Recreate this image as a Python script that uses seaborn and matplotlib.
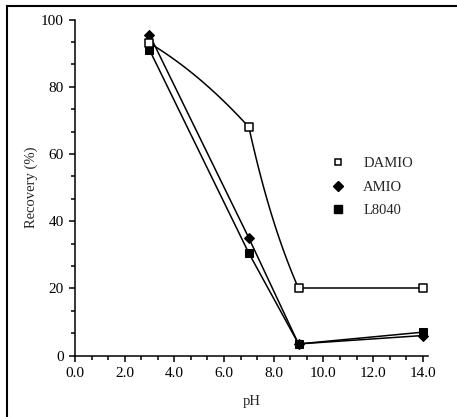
import numpy as np
import pandas as pd
import seaborn as sns
import matplotlib.pyplot as plt
from matplotlib.lines import Line2D
from matplotlib.patches import Rectangle
from matplotlib.ticker import MultipleLocator, FormatStrFormatter

# values
ph = [3.0, 7.0, 9.0, 14.0]
damio = [93.0, 68.0, 20.0, 20.0]
amio = [95.5, 35.0, 3.5, 6.0]
l8040 = [91.0, 30.5, 3.5, 7.0]

sns.set_style("ticks")
plt.rcParams['font.family'] = ['Liberation Serif', 'DejaVu Serif']
plt.rcParams['font.size'] = 10.5

fig = plt.figure(figsize=(4.57, 4.17), dpi=100)
ax = fig.add_axes([0.164, 0.147, 0.772, 0.806])
ax.set_xlim(0, 14.2)
ax.set_ylim(0, 100)

df = pd.DataFrame({'pH': ph, 'DAMIO': damio, 'AMIO': amio, 'L8040': l8040})


def smooth(xs, ys, slopes, n=60):
    # bezier through the points, tangent slopes given in screen space
    pts = ax.transData.transform(np.column_stack([xs, ys]))
    out = [pts[0]]
    for i in range(len(pts) - 1):
        p1, p2 = pts[i], pts[i + 1]
        L = np.hypot(*(p2 - p1))
        s1, s2 = slopes[i]
        d1 = np.array([1.0, s1]) / np.hypot(1, s1)
        d2 = np.array([1.0, s2]) / np.hypot(1, s2)
        c1 = p1 + d1 * L / 3
        c2 = p2 - d2 * L / 3
        t = np.linspace(0, 1, n)[1:, None]
        seg = ((1 - t) ** 3) * p1 + 3 * ((1 - t) ** 2) * t * c1 + 3 * (1 - t) * t ** 2 * c2 + t ** 3 * p2
        out.extend(seg)
    return ax.transData.inverted().transform(np.array(out))


# DAMIO: curved over the first three points, flat afterwards
curve = smooth(ph[:3], damio[:3], [(-0.6, -1.1), (-4.5, -2.3)])
ax.plot(curve[:, 0], curve[:, 1], color='black', lw=1.1)
ax.plot(ph[2:], damio[2:], color='black', lw=1.1)

sns.lineplot(data=df, x='pH', y='AMIO', color='black', lw=1.1, ax=ax,
             marker='D', markersize=5, markeredgecolor='black')
sns.lineplot(data=df, x='pH', y='L8040', color='black', lw=1.1, ax=ax,
             marker='s', markersize=6, markeredgecolor='black')
sns.scatterplot(data=df, x='pH', y='DAMIO', marker='s', s=28, facecolor='white',
                edgecolor='black', linewidth=1.1, ax=ax, zorder=5)

ax.set_xlabel('pH', labelpad=11)
ax.set_ylabel('Recovery (%)', labelpad=2)

ax.xaxis.set_major_locator(MultipleLocator(2))
ax.xaxis.set_minor_locator(MultipleLocator(2 / 3))
ax.xaxis.set_major_formatter(FormatStrFormatter('%.1f'))
ax.yaxis.set_major_locator(MultipleLocator(20))
ax.yaxis.set_minor_locator(MultipleLocator(20 / 3))
ax.tick_params(which='major', length=4.5, width=1.1, color='black',
               labelcolor='black', labelsize=11)
ax.tick_params(which='minor', length=3, width=1.1, color='black')
for s in ['left', 'bottom']:
    ax.spines[s].set_linewidth(1.1)
    ax.spines[s].set_color('black')
sns.despine(ax=ax)

handles = [
    Line2D([], [], ls='none', marker='s', ms=5, mfc='white', mec='black', mew=1.1),
    Line2D([], [], ls='none', marker='D', ms=5, mfc='black', mec='black'),
    Line2D([], [], ls='none', marker='s', ms=6, mfc='black', mec='black'),
]
ax.legend(handles, ['DAMIO', 'AMIO', 'L8040'], loc='upper left',
          bbox_to_anchor=(0.668, 0.63), frameon=False, labelspacing=0.7,
          handletextpad=0.7, fontsize=10.5)

fig.add_artist(Rectangle((7 / 457, -0.1), 2, 1.1 - 6 / 417, transform=fig.transFigure,
                         fill=False, lw=1.5, edgecolor='black'))

fig.savefig('out.png', dpi=100)
